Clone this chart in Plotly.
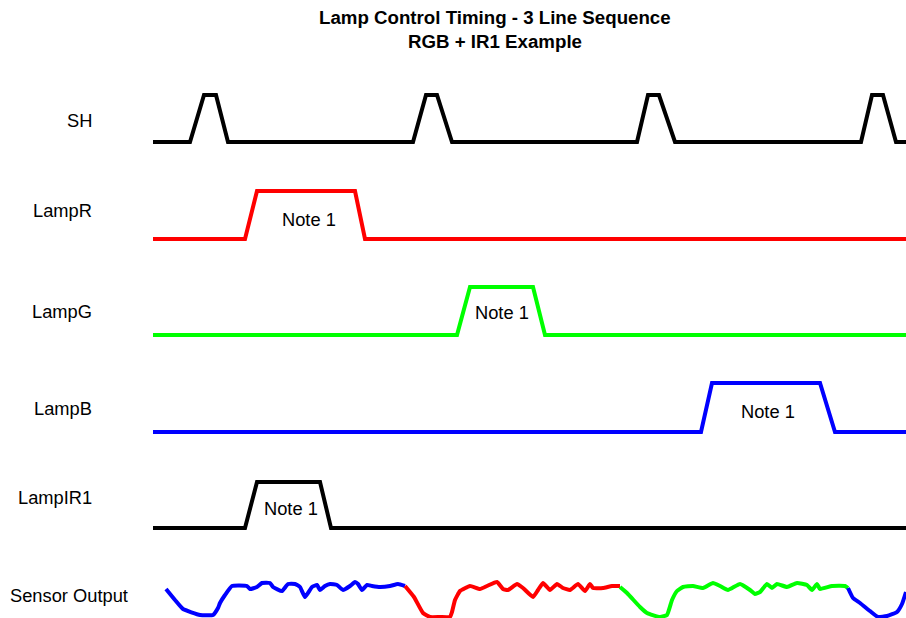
import plotly.graph_objects as go

# ---- data (time in px-like units, logic levels 0/1) ----
sh_t = [153, 190, 204, 216, 228, 413, 426, 437, 452, 637, 648, 659, 675, 861, 872, 883, 896, 906]
sh_v = [0, 0, 1, 1, 0, 0, 1, 1, 0, 0, 1, 1, 0, 0, 1, 1, 0, 0]

lampr_t = [153, 245, 257, 355, 365, 906]
lampr_v = [0, 0, 1, 1, 0, 0]

lampg_t = [153, 457, 470, 533, 545, 906]
lampg_v = [0, 0, 1, 1, 0, 0]

lampb_t = [153, 701, 712, 820, 835, 906]
lampb_v = [0, 0, 1, 1, 0, 0]

lampir_t = [153, 245, 257, 320, 331, 906]
lampir_v = [0, 0, 1, 1, 0, 0]

# sensor output: value above the bottom of its row
sens_blue1_t = [166, 175, 183, 200, 213, 218, 220, 225, 232, 247, 250, 257, 262, 270, 273, 282, 288,
                295, 300, 305, 312, 317, 320, 325, 330, 337, 343, 350, 355, 358, 362, 367, 372, 380,
                390, 398, 405]
sens_blue1_v = [28, 17, 8, 2, 2, 9, 14, 22, 31, 31, 28, 30, 34, 34, 30, 26, 33,
                33, 30, 20, 30, 32, 27, 31, 33, 32, 27, 31, 35, 33, 27, 32, 31, 30,
                31, 33, 31]
sens_red_t = [405, 414, 423, 430, 440, 450, 452, 455, 460, 470, 480, 487, 497, 503, 508, 517, 523,
              533, 538, 543, 550, 557, 563, 570, 578, 585, 590, 593, 603, 612, 620]
sens_red_v = [31, 20, 4, 0, 0, 0, 5, 17, 26, 31, 28, 31, 35, 28, 27, 33, 29,
              20, 27, 34, 27, 33, 29, 27, 33, 26, 33, 29, 29, 31, 31]
sens_green_t = [620, 627, 640, 647, 660, 667, 672, 677, 683, 693, 703, 713, 720, 728, 740, 750, 755,
                760, 767, 772, 777, 787, 797, 807, 812, 817, 820, 832, 845, 848]
sens_green_v = [30, 24, 10, 4, 0, 2, 17, 26, 30, 31, 29, 34, 31, 27, 33, 27, 23,
                25, 33, 29, 33, 30, 34, 32, 27, 33, 28, 31, 31, 29]
sens_blue2_t = [848, 853, 860, 870, 878, 887, 897, 902, 906]
sens_blue2_v = [29, 19, 14, 6, 0, 1, 5, 13, 25]

row_labels = ["SH", "LampR", "LampG", "LampB", "LampIR1", "Sensor Output"]
note_text = "Note 1"
title_lines = ["Lamp Control Timing - 3 Line Sequence", "RGB + IR1 Example"]

# ---- layout geometry (figure fills the whole 906x618 window) ----
W, H = 906, 618
row_base = [142, 239, 335, 432, 528]
row_amp = [47, 48, 48, 49, 46]
sens_base = 617
FONT = "Liberation Sans, Arial, sans-serif"

fig = go.Figure()

def add_signal(t, v, i, color):
    y = [row_base[i] - lv * row_amp[i] for lv in v]
    fig.add_trace(go.Scatter(x=t, y=y, mode="lines",
                             line=dict(color=color, width=4),
                             hoverinfo="skip", showlegend=False))

add_signal(sh_t, sh_v, 0, "#000000")
add_signal(lampr_t, lampr_v, 1, "#ff0000")
add_signal(lampg_t, lampg_v, 2, "#00ff00")
add_signal(lampb_t, lampb_v, 3, "#0000ff")
add_signal(lampir_t, lampir_v, 4, "#000000")

for t, v, c in [(sens_blue1_t, sens_blue1_v, "#0000ff"),
                (sens_red_t, sens_red_v, "#ff0000"),
                (sens_green_t, sens_green_v, "#00ff00"),
                (sens_blue2_t, sens_blue2_v, "#0000ff")]:
    fig.add_trace(go.Scatter(x=t, y=[sens_base - s for s in v], mode="lines",
                             line=dict(color=c, width=4, shape="spline", smoothing=0.4),
                             hoverinfo="skip", showlegend=False))

# row labels
label_pos = [(94, 120), (94, 210), (94, 311), (94, 408), (94, 497), (130, 595)]
for txt, (lx, ly) in zip(row_labels, label_pos):
    fig.add_annotation(x=lx, y=ly, xref="x", yref="y", text=txt, showarrow=False,
                       xanchor="right", yanchor="middle",
                       font=dict(family=FONT, size=18.3, color="#000000"))

# Note 1 labels
note_pos = [(309, 219), (502, 312), (768, 411), (291, 508)]
for nx, ny in note_pos:
    fig.add_annotation(x=nx, y=ny, xref="x", yref="y", text=note_text, showarrow=False,
                       xanchor="center", yanchor="middle",
                       font=dict(family=FONT, size=18.3, color="#000000"))

# title
fig.add_annotation(x=495, y=17, xref="x", yref="y", text="<b>" + title_lines[0] + "</b>",
                   showarrow=False, xanchor="center", yanchor="middle",
                   font=dict(family=FONT, size=18.7, color="#000000"))
fig.add_annotation(x=495, y=41, xref="x", yref="y", text="<b>" + title_lines[1] + "</b>",
                   showarrow=False, xanchor="center", yanchor="middle",
                   font=dict(family=FONT, size=18.7, color="#000000"))

fig.update_layout(width=W, height=H, margin=dict(l=0, r=0, t=0, b=0),
                  paper_bgcolor="white", plot_bgcolor="white",
                  xaxis=dict(range=[0, W], visible=False, fixedrange=True),
                  yaxis=dict(range=[H, 0], visible=False, fixedrange=True))

# remove the default page margin so the figure fills the window exactly
fig.write_html("out.html",
               config={"displayModeBar": False, "staticPlot": True},
               post_script="document.body.style.margin='0';document.body.style.overflow='hidden';")
